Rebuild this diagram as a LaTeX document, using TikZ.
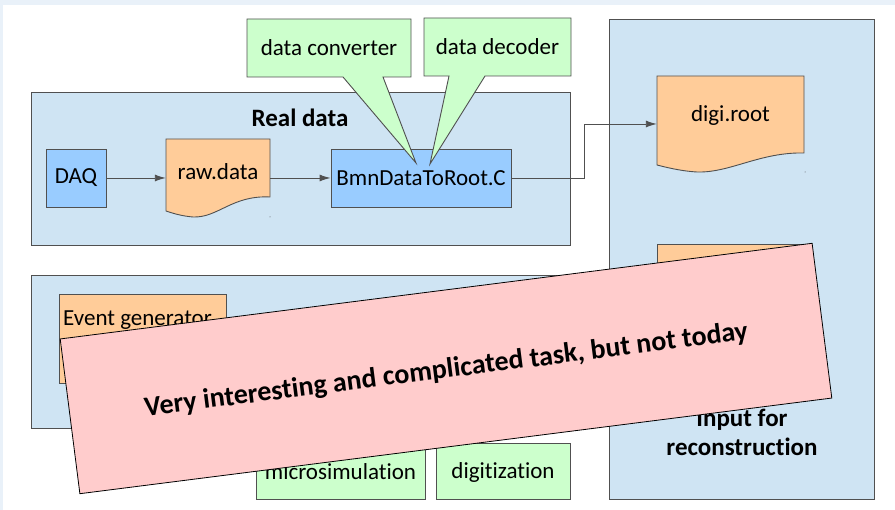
\documentclass[tikz,border=0pt]{standalone}
\usepackage{fontspec}
\setmainfont[Ligatures=NoCommon]{Carlito}
\usetikzlibrary{arrows.meta}
\definecolor{bandc}{HTML}{E9F1F9}
\definecolor{panelc}{HTML}{CFE4F3}
\definecolor{procc}{HTML}{99CCFF}
\definecolor{docc}{HTML}{FFCC99}
\definecolor{notec}{HTML}{CCFFCC}
\definecolor{warnc}{HTML}{FFCCCC}
\definecolor{edgec}{HTML}{505050}
\tikzset{
  panel/.style={draw=edgec,fill=panelc,line width=0.9pt},
  proc/.style={draw=edgec,fill=procc,line width=0.9pt,inner sep=0pt},
  docshape/.style={draw=edgec,fill=docc,line width=0.9pt},
  notebox/.style={draw=edgec,fill=notec,line width=0.9pt,line join=miter},
  txt/.style={font=\fontsize{23}{27}\selectfont,inner sep=0pt},
  btxt/.style={font=\fontsize{25}{30}\selectfont\bfseries,inner sep=0pt},
  conn/.style={draw=edgec,line width=0.9pt,-{Latex[length=11pt,width=7pt]}},
}
\begin{document}
\begin{tikzpicture}[x=1pt,y=-1pt]
\useasboundingbox (0,0) rectangle (895,510);
\fill[white] (0,0) rectangle (895,510);
\fill[bandc] (0,0) rectangle (895,5);
\fill[bandc] (0,0) rectangle (3,510);

% right panel
\draw[panel] (609,19) rectangle (874,499);
% real data panel
\draw[panel] (31,92) rectangle (570,245);
\node[btxt] (realtitle) at (300,118) {Real data};

\node[proc,minimum width=60pt,minimum height=58pt] (daq) at (76,178) {};
\node[txt] (daqt) at (76,178) {DAQ};

% raw.data document
\draw[docshape] (166,139) -- (270,139) -- (270,197)
  .. controls (232,195) and (218,218) .. (193,217)
  .. controls (181,216) and (172,213) .. (166,211) -- cycle;
\node[minimum width=104pt,minimum height=78pt,inner sep=0pt] (raw) at (218,178) {};
\node[txt] (rawt) at (218,172) {raw.data};
\fill[edgec] (270,217) circle (0.5pt);

\node[proc,minimum width=180pt,minimum height=58pt] (bmn) at (421,178) {};
\node[txt] (bmnt) at (421,178) {BmnDataToRoot.C};

% digi.root document
\draw[docshape] (657,76) -- (804,76) -- (804,153)
  .. controls (760,152) and (730,173) .. (697,172)
  .. controls (680,171) and (665,167) .. (657,165) -- cycle;
\node[minimum width=147pt,minimum height=96pt,inner sep=0pt] (digi) at (730.5,124) {};
\node[txt] (digit) at (730.5,115) {digi.root};
\fill[edgec] (805,172) circle (0.5pt);

% connectors
\draw[conn] (daq.east) -- (raw.west |- daq.east);
\draw[conn] (raw.east |- bmn.west) -- (bmn.west);
\coordinate (bend) at (584,178);
\draw[conn] (bmn.east) -- (bend) |- (digi.west);

% callouts
\draw[notebox] (247,19) -- (411,19) -- (411,77) -- (383,77) -- (416,163) -- (343,77) -- (247,77) -- cycle;
\node[txt] (conv) at (329,48) {data converter};
\draw[notebox] (424,18) -- (571,18) -- (571,76) -- (485,76) -- (430,164) -- (449,76) -- (424,76) -- cycle;
\node[txt] (deco) at (497.5,47) {data decoder};

% simulation panel
\draw[panel] (31,275) rectangle (570,428);
\draw[docshape] (59,294) rectangle (226,383);
\node[txt,anchor=west] (evgen) at (63,320) {Event generator};
\draw[notebox] (256,443) rectangle (425,499);
\node[txt] (micro) at (340.5,472) {microsimulation};
\draw[notebox] (436,443) rectangle (570,499);
\node[txt] (digiz) at (503,472) {digitization};

% second document in right panel (hidden)
\draw[docshape] (657,244) rectangle (805,340);
\node[btxt,align=center] (inrec) at (742,432) {Input for\\[-1pt]reconstruction};

% overlay banner
\begin{scope}[shift={(446,368.5)},rotate=7.25]
\draw[draw=black,fill=warnc,line width=0.8pt] (-379,-78) rectangle (379,78);
\node[font=\fontsize{28}{32}\selectfont\bfseries,inner sep=0pt,rotate=7.25] (banner) at (0,2) {Very interesting and complicated task, but not today};
\end{scope}
\end{tikzpicture}
\end{document}
